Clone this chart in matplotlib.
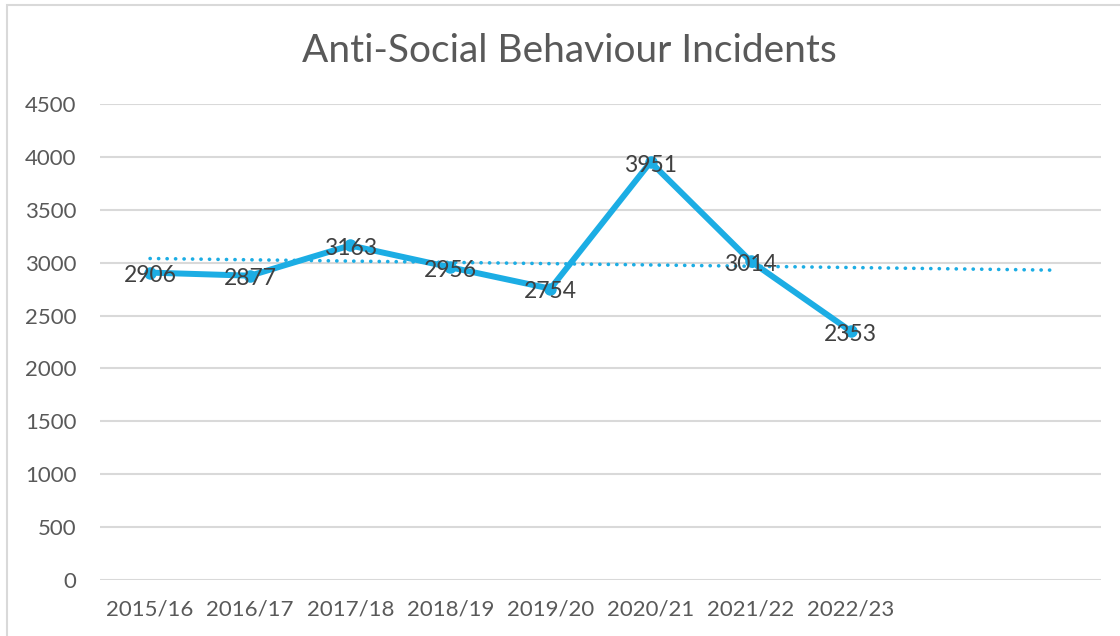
import matplotlib.pyplot as plt
import matplotlib.patches as mpatches
import numpy as np

# data
years = ['2015/16', '2016/17', '2017/18', '2018/19', '2019/20',
         '2020/21', '2021/22', '2022/23']
incidents = [2906, 2877, 3163, 2956, 2754, 3951, 3014, 2353]
n_slots = 10   # the category axis leaves room for two more years

blue = '#1CADE4'
grey_txt = '#595959'
label_txt = '#404040'
font = 'Lato'

fig = plt.figure(figsize=(11.2, 6.36), dpi=100)
ax = fig.add_axes([0.0893, 0.088, 0.8937, 0.7485])

# chart border (light grey frame, cut at the right and bottom)
fig.patches.append(mpatches.Rectangle((7 / 1120, -0.1), 1.2, 1 - 5 / 636 + 0.1,
                                      transform=fig.transFigure, fill=False,
                                      edgecolor='#d9d9d9', linewidth=1.5))

x = np.arange(len(years))
ax.plot(x, incidents, color=blue, linewidth=4.3, marker='o', markersize=8,
        solid_joinstyle='round', zorder=3)

# linear trendline, extended one period forward
coef = np.polyfit(x, incidents, 1)
xt = np.array([0, len(years) + 1])
ax.plot(xt, np.polyval(coef, xt), color=blue, linewidth=2.6,
        linestyle=(0, (0.05, 2.3)), dash_capstyle='round', zorder=2)

for xi, v in zip(x, incidents):
    ax.text(xi, v - 30, str(v), ha='center', va='center', fontsize=16.5,
            color=label_txt, family=font, zorder=4)

ax.set_xlim(-0.5, n_slots - 0.5)
ax.set_ylim(0, 4500)
ax.set_yticks(np.arange(0, 4501, 500))
ax.set_xticks(x)
ax.set_xticklabels(years)
ax.grid(axis='y', color='#d9d9d9', linewidth=1.5)
ax.set_axisbelow(True)
for s in ['top', 'right', 'left', 'bottom']:
    ax.spines[s].set_visible(False)
ax.tick_params(length=0, labelsize=16, labelcolor=grey_txt, pad=14)
for lab in ax.get_xticklabels() + ax.get_yticklabels():
    lab.set_family(font)
ax.tick_params(axis='y', pad=17)

fig.text(0.508, 0.92, 'Anti-Social Behaviour Incidents', ha='center', va='center',
         fontsize=28, color=grey_txt, family=font)

fig.savefig('out.png', dpi=100)
